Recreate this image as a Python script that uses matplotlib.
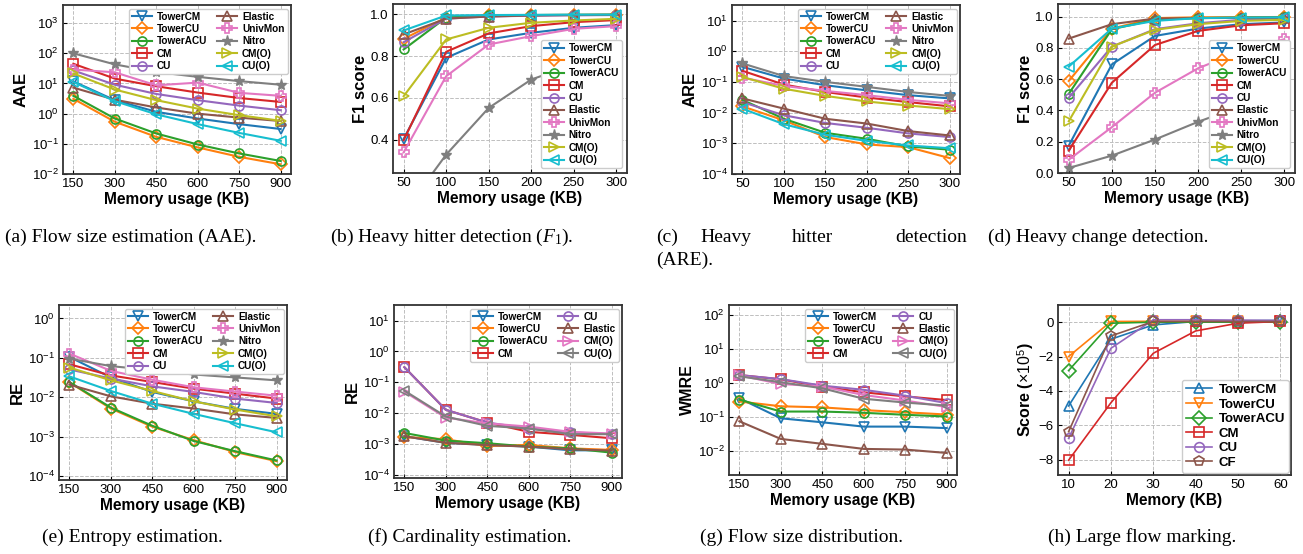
import matplotlib
matplotlib.use("Agg")
import matplotlib.pyplot as plt

# ---------------- data ----------------
mem_large = [150, 300, 450, 600, 750, 900]
mem_small = [50, 100, 150, 200, 250, 300]
mem_mark = [10, 20, 30, 40, 50, 60]

aae = {
    "TowerCM":  [11.7, 2.8, 1.15, 0.69, 0.45, 0.31],
    "TowerCU":  [3.1, 0.54, 0.17, 0.076, 0.037, 0.021],
    "TowerACU": [3.9, 0.69, 0.22, 0.095, 0.048, 0.027],
    "CM":       [45, 14.5, 8.1, 5.0, 3.3, 2.45],
    "CU":       [27, 9.1, 4.5, 2.8, 1.85, 1.3],
    "Elastic":  [7.3, 2.9, 1.6, 1.0, 0.74, 0.57],
    "UnivMon":  [29, 23.5, 8.7, 10.7, 4.9, 3.9],
    "Nitro":    [100, 43, 24, 16.6, 12, 9.1],
    "CM(O)":    [21.5, 6.3, 2.8, 1.47, 0.89, 0.58],
    "CU(O)":    [11.2, 2.6, 0.95, 0.45, 0.23, 0.126],
}

hh_f1 = {
    "TowerCM":  [0.403, 0.792, 0.880, 0.912, 0.936, 0.949],
    "TowerCU":  [0.883, 0.985, 0.995, 0.997, 0.998, 0.999],
    "TowerACU": [0.832, 0.985, 0.995, 0.997, 0.998, 0.999],
    "CM":       [0.397, 0.821, 0.909, 0.944, 0.963, 0.973],
    "CU":       [0.867, 0.980, 0.990, 0.994, 0.996, 0.997],
    "Elastic":  [0.904, 0.980, 0.990, 0.995, 0.997, 0.998],
    "UnivMon":  [0.339, 0.704, 0.856, 0.896, 0.931, 0.944],
    "Nitro":    [0.05, 0.328, 0.552, 0.688, 0.760, 0.824],
    "CM(O)":    [0.608, 0.880, 0.936, 0.960, 0.971, 0.979],
    "CU(O)":    [0.923, 0.995, 0.997, 0.998, 0.999, 0.999],
}

hh_are = {
    "TowerCM":  [0.31, 0.129, 0.078, 0.053, 0.037, 0.029],
    "TowerCU":  [0.016, 0.0056, 0.0016, 0.00092, 0.00075, 0.00033],
    "TowerACU": [0.026, 0.0063, 0.0022, 0.0014, 0.00079, 0.00062],
    "CM":       [0.23, 0.082, 0.047, 0.031, 0.022, 0.016],
    "CU":       [0.022, 0.0082, 0.0046, 0.0032, 0.0021, 0.0016],
    "Elastic":  [0.029, 0.0135, 0.0063, 0.0044, 0.0025, 0.0018],
    "UnivMon":  [0.138, 0.074, 0.051, 0.037, 0.026, 0.020],
    "Nitro":    [0.40, 0.155, 0.10, 0.069, 0.047, 0.035],
    "CM(O)":    [0.145, 0.060, 0.035, 0.023, 0.017, 0.013],
    "CU(O)":    [0.0134, 0.0042, 0.0019, 0.0012, 0.00085, 0.00069],
}

hc_f1 = {
    "TowerCM":  [0.175, 0.694, 0.876, 0.923, 0.951, 0.962],
    "TowerCU":  [0.588, 0.923, 0.990, 0.995, 0.996, 0.997],
    "TowerACU": [0.506, 0.919, 0.979, 0.990, 0.993, 0.995],
    "CM":       [0.143, 0.577, 0.818, 0.908, 0.944, 0.957],
    "CU":       [0.481, 0.808, 0.919, 0.957, 0.979, 0.990],
    "Elastic":  [0.859, 0.951, 0.987, 0.990, 0.991, 0.992],
    "UnivMon":  [0.085, 0.293, 0.513, 0.669, 0.780, 0.855],
    "Nitro":    [0.032, 0.111, 0.214, 0.327, 0.427, 0.528],
    "CM(O)":    [0.331, 0.808, 0.915, 0.951, 0.972, 0.979],
    "CU(O)":    [0.680, 0.923, 0.972, 0.990, 0.993, 0.995],
}

entropy_re = {
    "TowerCM":  [0.106, 0.032, 0.0137, 0.0079, 0.0051, 0.0038],
    "TowerCU":  [0.024, 0.0052, 0.0018, 0.00082, 0.00041, 0.00024],
    "TowerACU": [0.0245, 0.0055, 0.0019, 0.00078, 0.00043, 0.00025],
    "CM":       [0.069, 0.036, 0.0245, 0.0166, 0.0124, 0.0093],
    "CU":       [0.051, 0.030, 0.019, 0.0137, 0.0093, 0.0072],
    "Elastic":  [0.021, 0.0106, 0.0069, 0.0052, 0.0037, 0.0030],
    "UnivMon":  [0.129, 0.047, 0.028, 0.018, 0.014, 0.011],
    "Nitro":    [0.096, 0.062, 0.049, 0.038, 0.032, 0.027],
    "CM(O)":    [0.057, 0.027, 0.0145, 0.0079, 0.0049, 0.0033],
    "CU(O)":    [0.034, 0.0145, 0.0069, 0.0038, 0.0022, 0.0013],
}

card_re = {
    "TowerCM":  [0.0018, 0.0011, 0.00095, 0.00083, 0.00063, 0.00063],
    "TowerCU":  [0.0017, 0.00144, 0.00087, 0.00094, 0.00073, 0.00065],
    "TowerACU": [0.0023, 0.0013, 0.00107, 0.00083, 0.00073, 0.00053],
    "CM":       [0.31, 0.0129, 0.0050, 0.0025, 0.0020, 0.00155],
    "CU":       [0.31, 0.0129, 0.0050, 0.0032, 0.0024, 0.0021],
    "Elastic":  [0.0018, 0.0011, 0.00093, 0.00083, 0.00068, 0.00062],
    "CM(O)":    [0.050, 0.0072, 0.0047, 0.0037, 0.0025, 0.0022],
    "CU(O)":    [0.054, 0.0078, 0.0039, 0.0032, 0.0021, 0.0021],
}

fsd_wmre = {
    "TowerCM":  [0.36, 0.093, 0.071, 0.053, 0.053, 0.048],
    "TowerCU":  [0.29, 0.21, 0.195, 0.162, 0.14, 0.12],
    "TowerACU": [0.33, 0.147, 0.147, 0.135, 0.118, 0.105],
    "CM":       [1.74, 1.30, 0.80, 0.54, 0.41, 0.32],
    "CU":       [1.74, 1.32, 0.85, 0.64, 0.43, 0.26],
    "Elastic":  [0.076, 0.023, 0.0165, 0.0117, 0.0112, 0.0089],
    "CM(O)":    [1.70, 0.95, 0.80, 0.45, 0.31, 0.20],
    "CU(O)":    [1.60, 1.07, 0.71, 0.35, 0.27, 0.22],
}

mark_score = {
    "TowerCM":  [-4.88, -0.99, -0.16, 0.04, 0.08, 0.10],
    "TowerCU":  [-2.00, 0.04, 0.05, 0.05, 0.05, 0.05],
    "TowerACU": [-2.82, -0.06, 0.00, 0.00, 0.00, 0.00],
    "CM":       [-8.04, -4.69, -1.81, -0.51, -0.06, 0.04],
    "CU":       [-6.77, -1.52, 0.14, 0.14, 0.12, 0.10],
    "CF":       [-6.38, -0.80, 0.04, 0.04, 0.04, 0.04],
}

# ---------------- styles ----------------
style_main = {
    "TowerCM": ("tab:blue", "v"), "TowerCU": ("tab:orange", "D"),
    "TowerACU": ("tab:green", "o"), "CM": ("tab:red", "s"),
    "CU": ("tab:purple", "o"), "Elastic": ("tab:brown", "^"),
    "UnivMon": ("tab:pink", "P"), "Nitro": ("tab:gray", "*"),
    "CM(O)": ("tab:olive", ">"), "CU(O)": ("tab:cyan", "<"),
}
style_alt = dict(style_main)
style_alt["CM(O)"] = ("tab:pink", ">")
style_alt["CU(O)"] = ("tab:gray", "<")
style_mark = {
    "TowerCM": ("tab:blue", "^"), "TowerCU": ("tab:orange", "v"),
    "TowerACU": ("tab:green", "D"), "CM": ("tab:red", "s"),
    "CU": ("tab:purple", "o"), "CF": ("tab:brown", "p"),
}

plt.rcParams["font.family"] = ["Liberation Sans", "DejaVu Sans"]
plt.rcParams["mathtext.fontset"] = "custom"
plt.rcParams["mathtext.rm"] = "Liberation Sans"
plt.rcParams["mathtext.it"] = "Liberation Serif:italic"
plt.rcParams["mathtext.bf"] = "Liberation Sans:bold"

W, H = 1303, 554
fig = plt.figure(figsize=(W / 100, H / 100), dpi=100)


def add_ax(l, t, r, b):
    return fig.add_axes([l / W, 1 - b / H, (r - l) / W, (b - t) / H])


def draw(ax, x, data, styles, ylabel, xlabel="Memory usage (KB)", log=False,
         ylim=None, yticks=None, legend_kw=None, lw=1.5, ms=6.5, lfs=7.2,
         ylfs=12):
    for name, vals in data.items():
        c, m = styles[name]
        if m == "*":
            ax.plot(x, vals, color=c, marker=m, lw=lw, ms=ms + 1.5, label=name)
        else:
            ax.plot(x, vals, color=c, marker=m, lw=lw, ms=ms, mfc="none",
                    mew=1.2, label=name)
    if log:
        ax.set_yscale("log")
        ax.minorticks_off()
    if ylim:
        ax.set_ylim(*ylim)
    if yticks is not None:
        ax.set_yticks(yticks)
    ax.set_xticks(x)
    ax.set_xlabel(xlabel, fontsize=11.2, fontweight="bold", labelpad=1)
    ax.set_ylabel(ylabel, fontsize=ylfs, fontweight="bold", labelpad=2)
    ax.tick_params(direction="in", labelsize=9.5, length=3, pad=3,
                   top=False, right=False)
    ax.grid(True, ls="--", color="0.75", lw=0.7)
    for s in ax.spines.values():
        s.set_linewidth(1.3)
        s.set_color("0.2")
    kw = dict(prop={"weight": "bold", "size": lfs},
              labelspacing=0.24, borderpad=0.3, handletextpad=0.5,
              columnspacing=1.0, handlelength=2.0, framealpha=1.0,
              edgecolor="0.8", borderaxespad=0.35)
    if legend_kw:
        kw.update(legend_kw)
    ax.legend(**kw)


ax = add_ax(63, 5, 291, 174)
draw(ax, mem_large, aae, style_main, "AAE", log=True, ylim=(1e-2, 4e3),
     legend_kw=dict(ncol=2, loc="upper right"))

ax = add_ax(393, 4, 627, 173)
draw(ax, mem_small, hh_f1, style_main, "F1 score", ylim=(0.24, 1.05),
     yticks=[0.4, 0.6, 0.8, 1.0],
     legend_kw=dict(ncol=1, loc="lower right", borderaxespad=0.5))

ax = add_ax(732, 5, 960, 174)
draw(ax, mem_small, hh_are, style_main, "ARE", log=True, ylim=(1e-4, 32),
     legend_kw=dict(ncol=2, loc="upper right"))

ax = add_ax(1058, 4, 1295, 173)
draw(ax, mem_small, hc_f1, style_main, "F1 score", ylim=(0, 1.08),
     yticks=[0.0, 0.2, 0.4, 0.6, 0.8, 1.0],
     legend_kw=dict(ncol=1, loc="lower right", borderaxespad=0.5))

ax = add_ax(59, 305, 287, 480)
draw(ax, mem_large, entropy_re, style_main, "RE", log=True, ylim=(8e-5, 2.2),
     legend_kw=dict(ncol=2, loc="upper right"))

ax = add_ax(394, 305, 622, 478)
draw(ax, mem_large, card_re, style_alt, "RE", log=True, ylim=(8e-5, 32),
     legend_kw=dict(ncol=2, loc="upper right"))

ax = add_ax(729, 305, 957, 475)
draw(ax, mem_large, fsd_wmre, style_alt, "WMRE", log=True, ylim=(2e-3, 200),
     ylfs=11.5, legend_kw=dict(ncol=2, loc="upper right"))

ax = add_ax(1058, 305, 1291, 475)
draw(ax, mem_mark, mark_score, style_mark, r"Score ($\times10^5$)",
     xlabel="Memory (KB)", ylim=(-8.9, 1.0), yticks=[-8, -6, -4, -2, 0],
     lw=1.2, ms=7, lfs=9.5, ylfs=11.5,
     legend_kw=dict(ncol=1, loc="lower right", labelspacing=0.18,
                    borderaxespad=0.15))

# ---------------- captions ----------------
cap_font = dict(family="Liberation Serif", fontsize=14, va="center")
fig.text(5 / W, 1 - 237 / H, "(a) Flow size estimation (AAE).", **cap_font)
fig.text(330 / W, 1 - 237 / H, r"(b) Heavy hitter detection ($F_\mathdefault{1}$).", **cap_font)
for word, xp in [("(c)", 656), ("Heavy", 700), ("hitter", 792), ("detection", 895)]:
    fig.text(xp / W, 1 - 237 / H, word, **cap_font)
fig.text(656 / W, 1 - 260 / H, "(ARE).", **cap_font)
fig.text(988 / W, 1 - 237 / H, "(d) Heavy change detection.", **cap_font)
fig.text(42 / W, 1 - 537 / H, "(e) Entropy estimation.", **cap_font)
fig.text(368 / W, 1 - 537 / H, "(f) Cardinality estimation.", **cap_font)
fig.text(700 / W, 1 - 537 / H, "(g) Flow size distribution.", **cap_font)
fig.text(1048 / W, 1 - 537 / H, "(h) Large flow marking.", **cap_font)

fig.savefig("out.png", dpi=100)
